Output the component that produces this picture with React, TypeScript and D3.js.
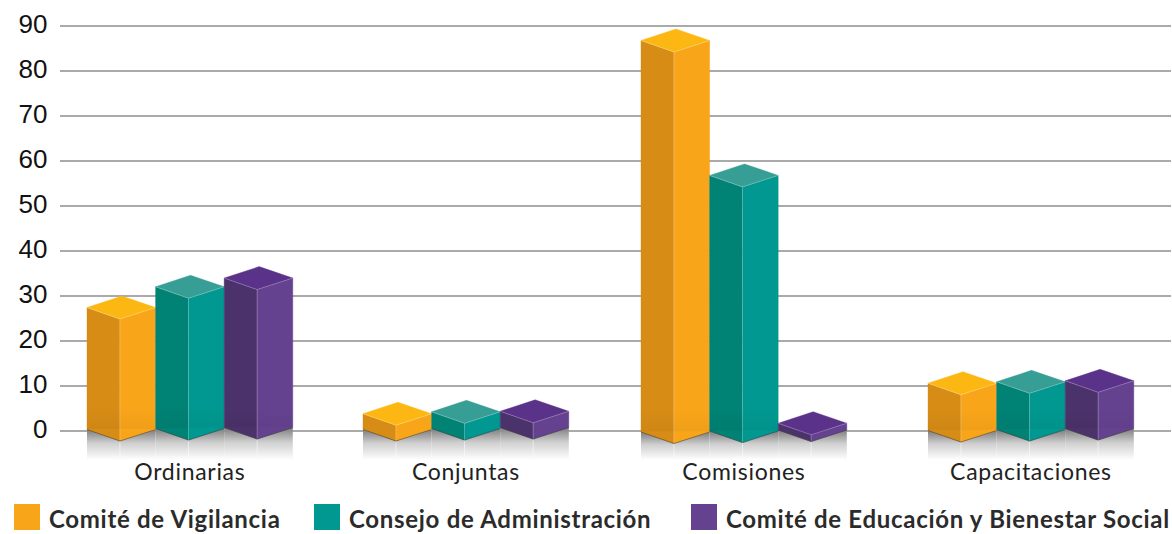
import React, { useEffect, useRef } from "react";
import * as d3 from "d3";

const categories = ["Ordinarias", "Conjuntas", "Comisiones", "Capacitaciones"];
const seriesNames = [
  "Comité de Vigilancia",
  "Consejo de Administración",
  "Comité de Educación y Bienestar Social",
];
const vigilancia = [27.1, 3.5, 87, 10.5];
const consejo = [31.5, 3.7, 56.8, 10.6];
const educacion = [33.2, 3.6, 1.5, 10.6];
const yTicks = [0, 10, 20, 30, 40, 50, 60, 70, 80, 90];

const seriesValues = [vigilancia, consejo, educacion];
// left face, right face, top face
const palettes = [
  ["#d78c15", "#f9a51a", "#fdb713"],
  ["#008274", "#009890", "#369e94"],
  ["#4b326b", "#654290", "#5b3289"],
];

const width = 1172;
const height = 534;
const barWidth = 68.6;
const frontShare = 0.48; // where the front edge sits along the bar width
const rise = 11.5; // depth of the rhombus, front corner to side corners
// the base of the boxes sits below the zero line, a bit different per group
const groupDrop = [10, 10, 12.5, 11];
const legendX = [14, 314, 691];

const App = () => {
  const ref = useRef<SVGSVGElement>(null);

  useEffect(() => {
    const svg = d3.select(ref.current);
    svg.selectAll("*").remove();

    const y = d3.scaleLinear().domain([0, 90]).range([431, 26]);
    const groupX = d3
      .scaleOrdinal<string, number>()
      .domain(categories)
      .range([87, 363, 641, 928]);

    const defs = svg.append("defs");
    const fade = defs
      .append("linearGradient")
      .attr("id", "floor-fade")
      .attr("x1", 0)
      .attr("x2", 0)
      .attr("y1", 0)
      .attr("y2", 1);
    fade.append("stop").attr("offset", 0).attr("stop-color", "#7d7d7d");
    fade.append("stop").attr("offset", 0.45).attr("stop-color", "#cfcfcf");
    fade.append("stop").attr("offset", 1).attr("stop-color", "#ffffff");

    const base = defs
      .append("linearGradient")
      .attr("id", "base-shade")
      .attr("x1", 0)
      .attr("x2", 0)
      .attr("y1", 0)
      .attr("y2", 1);
    base.append("stop").attr("offset", 0).attr("stop-color", "#000").attr("stop-opacity", 0);
    base.append("stop").attr("offset", 1).attr("stop-color", "#000").attr("stop-opacity", 0.04);

    // grid
    svg
      .append("g")
      .selectAll("line")
      .data(yTicks)
      .join("line")
      .attr("x1", 60)
      .attr("x2", 1171)
      .attr("y1", (d) => y(d))
      .attr("y2", (d) => y(d))
      .attr("stroke", "#8e8e8e")
      .attr("stroke-width", 1.4);

    // y labels
    svg
      .append("g")
      .selectAll("text")
      .data(yTicks)
      .join("text")
      .attr("x", 47.5)
      .attr("y", (d) => y(d) + 6.5)
      .attr("text-anchor", "end")
      .attr("font-family", "Liberation Sans")
      .attr("font-size", 26)
      .attr("fill", "#111")
      .text((d) => d);

    const line = d3.line();

    const bars = categories.flatMap((cat, c) =>
      seriesValues.map((vals, s) => {
        const x0 = groupX(cat) + s * barWidth;
        const xf = x0 + barWidth * frontShare;
        const x1 = x0 + barWidth;
        const bot = y(0) + groupDrop[c] - s;
        const top = bot - (y(0) - y(vals[c]));
        return { x0, xf, x1, bot, top, s, c };
      })
    );

    // floor reflection goes under the boxes
    const floor = svg.append("g");
    bars.forEach((b) => {
      floor
        .append("rect")
        .attr("x", b.x0)
        .attr("y", b.bot - rise)
        .attr("width", b.x1 - b.x0)
        .attr("height", 460 - (b.bot - rise))
        .attr("fill", "url(#floor-fade)");
      floor
        .append("line")
        .attr("x1", b.xf)
        .attr("x2", b.xf)
        .attr("y1", b.bot)
        .attr("y2", 458)
        .attr("stroke", "#fff")
        .attr("stroke-opacity", 0.5);
    });

    const boxes = svg.append("g");
    bars.forEach((b) => {
      const [left, right, topCol] = palettes[b.s];
      const g = boxes.append("g");
      const side = (pts, fill) =>
        g
          .append("path")
          .attr("d", line(pts) + "Z")
          .attr("fill", fill)
          .attr("stroke", fill)
          .attr("stroke-width", 0.4);
      side(
        [
          [b.x0, b.top - rise],
          [b.xf, b.top],
          [b.xf, b.bot],
          [b.x0, b.bot - rise],
        ],
        left
      );
      side(
        [
          [b.xf, b.top],
          [b.x1, b.top - rise],
          [b.x1, b.bot - rise],
          [b.xf, b.bot],
        ],
        right
      );
      side(
        [
          [b.x0, b.top - rise],
          [b.xf + 2, b.top - rise * 2],
          [b.x1, b.top - rise],
          [b.xf, b.top],
        ],
        topCol
      );
      // thin light edges
      g.append("path")
        .attr(
          "d",
          line([
            [b.x0, b.top - rise],
            [b.xf, b.top],
            [b.x1, b.top - rise],
          ])
        )
        .attr("fill", "none")
        .attr("stroke", "#fff")
        .attr("stroke-opacity", 0.3)
        .attr("stroke-width", 0.8);
      g.append("line")
        .attr("x1", b.xf)
        .attr("x2", b.xf)
        .attr("y1", b.top)
        .attr("y2", b.bot)
        .attr("stroke", "#fff")
        .attr("stroke-opacity", 0.3)
        .attr("stroke-width", 0.8);
      // darker bottom band where the box meets the floor
      if (b.bot - b.top > 30) {
        g.append("rect")
          .attr("x", b.x0)
          .attr("y", b.bot - 34)
          .attr("width", b.x1 - b.x0)
          .attr("height", 22)
          .attr("fill", "url(#base-shade)");
      }
      // dark line at the ground
      g.append("path")
        .attr(
          "d",
          line([
            [b.x0, b.bot - rise],
            [b.xf, b.bot],
            [b.x1, b.bot - rise],
          ])
        )
        .attr("fill", "none")
        .attr("stroke", "#3c3c3c")
        .attr("stroke-opacity", 0.55)
        .attr("stroke-width", 1);
    });

    // category labels
    svg
      .append("g")
      .selectAll("text")
      .data(categories)
      .join("text")
      .attr("x", (d) => groupX(d) + (3 * barWidth) / 2)
      .attr("y", 480)
      .attr("text-anchor", "middle")
      .attr("font-family", "Lato")
      .attr("font-size", 23)
      .attr("letter-spacing", 0.7)
      .attr("fill", "#222")
      .text((d) => d);

    // legend
    const legend = svg
      .append("g")
      .selectAll("g")
      .data(seriesNames)
      .join("g")
      .attr("transform", (_, i) => `translate(${legendX[i]},504)`);
    legend
      .append("rect")
      .attr("width", 26)
      .attr("height", 26)
      .attr("fill", (_, i) => palettes[i][1]);
    legend
      .append("text")
      .attr("x", 35)
      .attr("y", 24)
      .attr("font-family", "Lato")
      .attr("font-weight", 700)
      .attr("font-size", 24)
      .attr("letter-spacing", 0.7)
      .attr("fill", "#2b2b2b")
      .text((d) => d);
  }, []);

  return (
    <svg
      ref={ref}
      width={width}
      height={height}
      style={{ position: "absolute", left: 0, top: 0, background: "#fff" }}
    />
  );
};

export default App;
